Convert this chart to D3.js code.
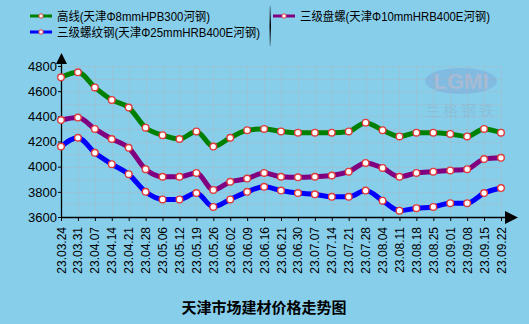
<!DOCTYPE html>
<html><head><meta charset="utf-8">
<script src="https://cdn.jsdelivr.net/npm/d3@7"></script>
<style>
html,body{margin:0;padding:0;background:#87CEEB;}
svg{display:block;}
</style></head>
<body>
<svg id="chart" width="529" height="324"></svg>
<script>
const categories = ["23.03.24","23.03.31","23.04.07","23.04.14","23.04.21","23.04.28","23.05.06","23.05.12","23.05.19","23.05.26","23.06.02","23.06.09","23.06.16","23.06.21","23.06.30","23.07.07","23.07.14","23.07.21","23.07.28","23.08.04","23.08.11","23.08.18","23.08.25","23.09.01","23.09.08","23.09.15","23.09.22"];
const gaoxian = [4710,4750,4630,4530,4470,4310,4250,4220,4280,4160,4230,4290,4300,4280,4270,4270,4270,4280,4350,4290,4240,4270,4270,4260,4240,4300,4270];
const panluo  = [4370,4390,4300,4220,4150,3980,3920,3920,3950,3815,3880,3905,3950,3920,3915,3920,3930,3960,4030,3990,3920,3950,3960,3970,3980,4060,4070];
const luowen  = [4160,4230,4110,4020,3940,3800,3740,3740,3790,3680,3740,3800,3840,3810,3790,3780,3760,3760,3810,3730,3650,3670,3680,3710,3710,3790,3830];
const yTicks = [3600,3800,4000,4200,4400,4600,4800];
const seriesNames = ["高线(天津Φ8mmHPB300河钢)","三级螺纹钢(天津Φ25mmHRB400E河钢)","三级盘螺(天津Φ10mmHRB400E河钢)"];
const seriesColors = ["#008000","#0000ff","#800080"];
const title = "天津市场建材价格走势图";

const svg = d3.select("#chart");
const x = d3.scalePoint().domain(categories).range([61, 501]);
const y = d3.scaleLinear().domain([3600, 4800]).range([217, 66]);

// grid
const grid = svg.append("g");
grid.selectAll("line.v").data(categories).join("line")
  .attr("x1", d => Math.round(x(d)) + 0.5).attr("x2", d => Math.round(x(d)) + 0.5).attr("y1", y(4800)).attr("y2", y(3600))
  .attr("stroke", "#a9b9c4").attr("stroke-opacity", 0.5).attr("stroke-width", 1);
grid.selectAll("line.h").data(d3.range(3600, 4801, 100)).join("line")
  .attr("x1", 61).attr("x2", 501).attr("y1", d => Math.round(y(d)) + 0.5).attr("y2", d => Math.round(y(d)) + 0.5)
  .attr("stroke", "#a9b9c4").attr("stroke-opacity", 0.5).attr("stroke-width", 1);

// watermark
const wm = svg.append("g").attr("opacity", 0.4);
wm.append("ellipse").attr("cx", 461).attr("cy", 81).attr("rx", 36).attr("ry", 13).attr("fill", "#7a9fd6");
wm.append("text").attr("x", 461).attr("y", 89).attr("text-anchor", "middle")
  .attr("font-family", "Liberation Sans, Arial").attr("font-weight", "bold").attr("font-size", 22)
  .attr("fill", "#e0a0b8").attr("stroke", "#9aa0b8").attr("stroke-width", 0.6).text("LGMI");
wm.append("text").attr("x", 461).attr("y", 116).attr("text-anchor", "middle")
  .attr("font-family", "Noto Sans CJK SC").attr("font-size", 15).attr("letter-spacing", 3)
  .attr("fill", "#8aa0b0").attr("opacity", 0.7).text("兰格钢铁");

// axes
const xAxis = d3.axisBottom(x).tickSize(4).tickPadding(3);
const gx = svg.append("g").attr("transform", "translate(0,217)").call(xAxis);
gx.select(".domain").remove();
gx.selectAll(".tick line").attr("stroke", "#000");
gx.selectAll(".tick text")
  .attr("font-family", "Liberation Sans, Arial").attr("font-size", 12).attr("fill", "#000")
  .attr("text-anchor", "end").attr("dy", null)
  .attr("transform", "translate(4,10) rotate(-90)").attr("x", 0).attr("y", 0);
svg.append("line").attr("x1", 61).attr("x2", 507).attr("y1", 217.5).attr("y2", 217.5).attr("stroke", "#000").attr("stroke-width", 1.3);
svg.append("path").attr("d", "M505,211 L518,217.5 L505,224 Z").attr("fill", "#000");

const yAxis = d3.axisLeft(y).tickValues(yTicks).tickFormat(d3.format("d")).tickSize(3).tickPadding(1);
const gy = svg.append("g").attr("transform", "translate(61,0)").call(yAxis);
gy.select(".domain").remove();
gy.selectAll(".tick text").attr("font-family", "Liberation Sans, Arial").attr("font-size", 13).attr("fill", "#000");
svg.append("line").attr("x1", 61.5).attr("x2", 61.5).attr("y1", 60).attr("y2", 218).attr("stroke", "#000").attr("stroke-width", 1.3);
svg.append("path").attr("d", "M56,64 L61.5,53 L67,64 Z").attr("fill", "#000");

// series
const series = [
  {vals: gaoxian, color: seriesColors[0]},
  {vals: panluo, color: seriesColors[2]},
  {vals: luowen, color: seriesColors[1]}
];
const line = d3.line().x((d, i) => x(categories[i])).y(d => y(d)).curve(d3.curveMonotoneX);
series.forEach(s => {
  svg.append("path").attr("d", line(s.vals)).attr("fill", "none").attr("stroke", s.color)
    .attr("stroke-width", 5).attr("stroke-linejoin", "round").attr("stroke-linecap", "round");
});
series.forEach(s => {
  svg.append("g").selectAll("circle").data(s.vals).join("circle")
    .attr("cx", (d, i) => x(categories[i])).attr("cy", d => y(d)).attr("r", 3.3)
    .attr("fill", "#fff").attr("stroke", "#e03c3c").attr("stroke-width", 1.4);
});

// legend
const legendItems = [
  {name: seriesNames[0], color: seriesColors[0], x: 30, y: 16, w: 153},
  {name: seriesNames[1], color: seriesColors[1], x: 30, y: 32, w: 203},
  {name: seriesNames[2], color: seriesColors[2], x: 273, y: 16, w: 190}
];
const lg = svg.append("g");
legendItems.forEach(it => {
  lg.append("line").attr("x1", it.x).attr("x2", it.x + 22).attr("y1", it.y).attr("y2", it.y)
    .attr("stroke", it.color).attr("stroke-width", 3);
  lg.append("circle").attr("cx", it.x + 11).attr("cy", it.y).attr("r", 2.2)
    .attr("fill", "#fff").attr("stroke", "#e03c3c").attr("stroke-width", 1);
  lg.append("text").attr("x", it.x + 27).attr("y", it.y + 4.5)
    .attr("font-family", "Liberation Sans, Noto Sans CJK SC").attr("font-size", 12.5).attr("fill", "#000")
    .attr("textLength", it.w).attr("lengthAdjust", "spacingAndGlyphs")
    .text(it.name);
});
const sepGrad = svg.append("defs").append("linearGradient").attr("id", "sep").attr("x1", 0).attr("x2", 0).attr("y1", 0).attr("y2", 1);
sepGrad.append("stop").attr("offset", "0%").attr("stop-color", "#000").attr("stop-opacity", 0.2);
sepGrad.append("stop").attr("offset", "50%").attr("stop-color", "#000").attr("stop-opacity", 1);
sepGrad.append("stop").attr("offset", "100%").attr("stop-color", "#000").attr("stop-opacity", 0.2);
lg.append("rect").attr("x", 269.5).attr("y", 6).attr("width", 1.5).attr("height", 40).attr("fill", "url(#sep)");

// title
svg.append("text").attr("x", 264).attr("y", 313).attr("text-anchor", "middle")
  .attr("font-family", "Noto Sans CJK SC").attr("font-weight", "bold").attr("font-size", 15).attr("fill", "#000")
  .text(title);
</script>
</body></html>
